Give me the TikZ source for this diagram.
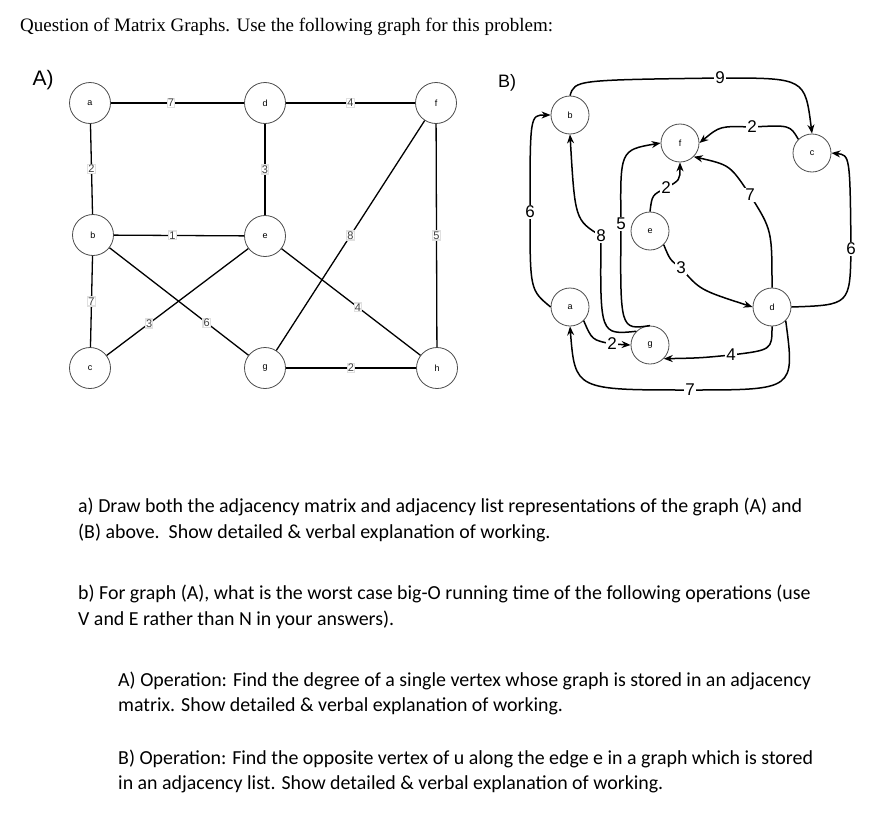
\documentclass[tikz,border=0pt]{standalone}
\usepackage{fontspec}
\setmainfont{Carlito}
\newfontfamily\arialf{Liberation Sans}
\newfontfamily\titlef{Liberation Serif}
\usetikzlibrary{arrows.meta}
\begin{document}
\begin{tikzpicture}[x=1pt,y=-1pt,
  vtx/.style={circle,draw=black!70,line width=0.8pt,minimum size=41pt,inner sep=0pt,font=\arialf\fontsize{9}{9}\selectfont},
  vtxb/.style={circle,draw=black!70,line width=0.8pt,minimum size=38pt,inner sep=0pt,font=\arialf\fontsize{9}{9}\selectfont},
  ea/.style={line width=1.3pt},
  wa/.style={fill=white,draw=black!12,inner sep=0.6pt,font=\arialf\fontsize{11}{11}\selectfont,text=black!75},
  eb/.style={line width=1.5pt,-{Stealth[length=9pt,width=7pt]}},
  wb/.style={fill=white,inner sep=1pt,font=\arialf\fontsize{17}{17}\selectfont},
  body/.style={anchor=west,inner sep=0pt,font=\fontsize{19.9}{22}\selectfont}]
\useasboundingbox (0,0) rectangle (883,819);
\node[anchor=west,inner sep=0pt,font=\titlef\fontsize{19}{22}\selectfont] (title) at (20,27) {Question of Matrix Graphs. Use the following graph for this problem:};
% Graph A
\node[font=\arialf\fontsize{21}{21}\selectfont] (lA) at (43,80) {A)};
\node[vtx] (a) at (90,103) {a};
\node[vtx] (d) at (265,103) {d};
\node[vtx] (f) at (436,103) {f};
\node[vtx] (b) at (93,235) {b};
\node[vtx] (e) at (265,236) {e};
\node[vtx] (c) at (90,368) {c};
\node[vtx] (g) at (265,368) {g};
\node[vtx] (h) at (437,368) {h};
\draw[ea] (a) -- node[wa,pos=0.45]{7} (d);
\draw[ea] (d) -- node[wa]{4} (f);
\draw[ea] (a) -- node[wa]{2} (b);
\draw[ea] (d) -- node[wa]{3} (e);
\draw[ea] (b) -- node[wa,pos=0.45]{1} (e);
\draw[ea] (g) -- node[wa]{8} (f);
\draw[ea] (f) -- node[wa]{5} (h);
\draw[ea] (b) -- node[wa]{7} (c);
\draw[ea] (c) -- node[wa,pos=0.3]{3} (e);
\draw[ea] (b) -- node[wa,pos=0.7]{6} (g);
\draw[ea] (e) -- node[wa,pos=0.55]{4} (h);
\draw[ea] (g) -- node[wa]{2} (h);
% Graph B
\node[font=\arialf\fontsize{18}{18}\selectfont] (lB) at (507,83) {B)};
\node[vtxb] (Bb) at (570,115) {b};
\node[vtxb] (Bf) at (680,143) {f};
\node[vtxb] (Bc) at (812,153) {c};
\node[vtxb] (Be) at (650,231) {e};
\node[vtxb] (Ba) at (570,307) {a};
\node[vtxb] (Bd) at (772,307) {d};
\node[vtxb] (Bg) at (650,345) {g};
\draw[eb] (Bb.north) .. controls (575,80) .. (720,78) node[wb]{9} .. controls (805,78) .. (Bc.north);
\draw[eb] (Bc.north west) .. controls (790,125) .. (752,127) node[wb]{2} .. controls (720,126) .. (Bf.east);
\draw[eb] (Ba.west) .. controls (530,290) .. (530,212) node[wb]{6} .. controls (530,115) .. (Bb.west);
\draw[eb] (Bg.north west) .. controls (600,335) .. (601,236) node[wb]{8} .. controls (575,220) .. (Bb.south);
\draw[eb] (Bg.north) .. controls (620,330) .. (621,224) node[wb]{5} .. controls (620,150) .. (Bf.west);
\draw[eb] (Be.north) .. controls (652,195) .. (666,188) node[wb]{2} .. controls (680,180) .. (Bf.south);
\draw[eb] (Bd.north) .. controls (772,230) .. (750,195) node[wb]{7} .. controls (730,165) .. (Bf.south east);
\draw[eb] (Be.south east) .. controls (670,260) .. (681,268) node[wb]{3} .. controls (700,290) .. (Bd.west);
\draw[eb] (Bd.east) .. controls (850,305) .. (851,249) node[wb]{6} .. controls (850,155) .. (Bc.east);
\draw[eb] (Bd.south) .. controls (772,350) .. (731,355) node[wb]{4} .. controls (700,358) .. (Bg.south east);
\draw[eb] (Bd.south east) .. controls (795,390) .. (690,390) node[wb]{7} .. controls (575,390) .. (Ba.south);
\draw[eb] (Ba.south east) .. controls (592,340) .. (612,344) node[wb]{2} -- (Bg.west);
% text
\node[body] (t1) at (78,507) {a) Draw both the adjacency matrix and adjacency list representations of the graph (A) and};
\node[body] (t2) at (78,533) {(B) above.\ \ Show detailed \& verbal explanation of working.};
\node[body] (t3) at (78,594) {b) For graph (A), what is the worst case big-O running time of the following operations (use};
\node[body] (t4) at (78,620) {V and E rather than N in your answers).};
\node[body] (t5) at (118,681) {A) Operation: Find the degree of a single vertex whose graph is stored in an adjacency};
\node[body] (t6) at (118,706) {matrix. Show detailed \& verbal explanation of working.};
\node[body] (t7) at (118,759) {B) Operation: Find the opposite vertex of u along the edge e in a graph which is stored};
\node[body] (t8) at (118,784) {in an adjacency list. Show detailed \& verbal explanation of working.};
\end{tikzpicture}
\end{document}
